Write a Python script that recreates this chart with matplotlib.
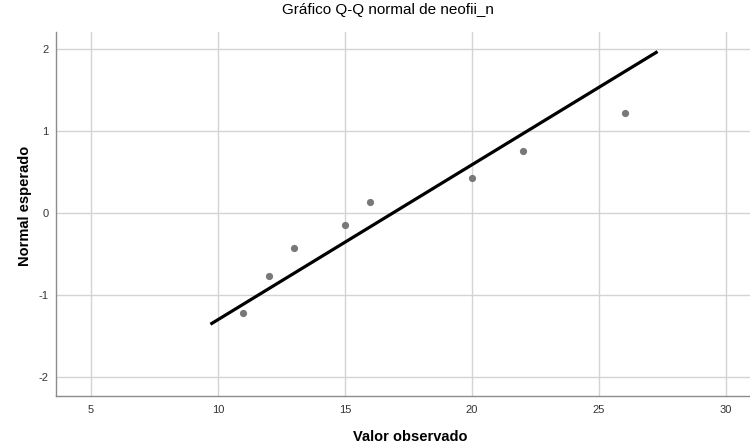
import numpy as np
import matplotlib
matplotlib.use("Agg")
import matplotlib.pyplot as plt

plt.rcParams['font.family'] = ['Liberation Sans', 'DejaVu Sans']
plt.rcParams['axes.unicode_minus'] = False

observed = [11, 12, 13, 15, 16, 20, 22, 26]
expected = [-1.22, -0.76, -0.43, -0.14, 0.14, 0.43, 0.76, 1.22]
line_x = [9.7, 27.3]

mean = np.mean(observed)
sd = np.std(observed, ddof=1)
line_y = [(x - mean) / sd for x in line_x]

fig = plt.figure(figsize=(7.5, 4.47), dpi=100)
ax = fig.add_axes([0.0743, 0.1152, 0.9257, 0.8143])

ax.grid(True, color='#d4d4d4', linewidth=1.0)
ax.set_axisbelow(True)
ax.plot(line_x, line_y, color='black', linewidth=2.3, solid_capstyle='butt', zorder=3)
ax.plot(observed, expected, 'o', color='#787878', markersize=5.2, markeredgewidth=0, zorder=4)

ax.set_xlim(3.61, 30.94)
ax.set_ylim(-2.22, 2.21)
ax.set_xticks([5, 10, 15, 20, 25, 30])
ax.set_yticks([-2, -1, 0, 1, 2])
ax.tick_params(length=0, labelsize=8, colors='#333333')
ax.tick_params(axis='x', pad=7)
ax.tick_params(axis='y', pad=5)

for s in ['top', 'right']:
    ax.spines[s].set_visible(False)
for s in ['left', 'bottom']:
    ax.spines[s].set_color('#8c8c8c')
    ax.spines[s].set_linewidth(1.0)

fig.text(0.517, 0.977, 'Gráfico Q-Q normal de neofii_n', ha='center', va='center', fontsize=11)
fig.text(0.547, 0.022, 'Valor observado', ha='center', va='center', fontsize=10.5, fontweight='bold')
fig.text(0.033, 0.539, 'Normal esperado', ha='center', va='center', fontsize=10.5,
         fontweight='bold', rotation=90)

fig.savefig('out.png', dpi=100)
